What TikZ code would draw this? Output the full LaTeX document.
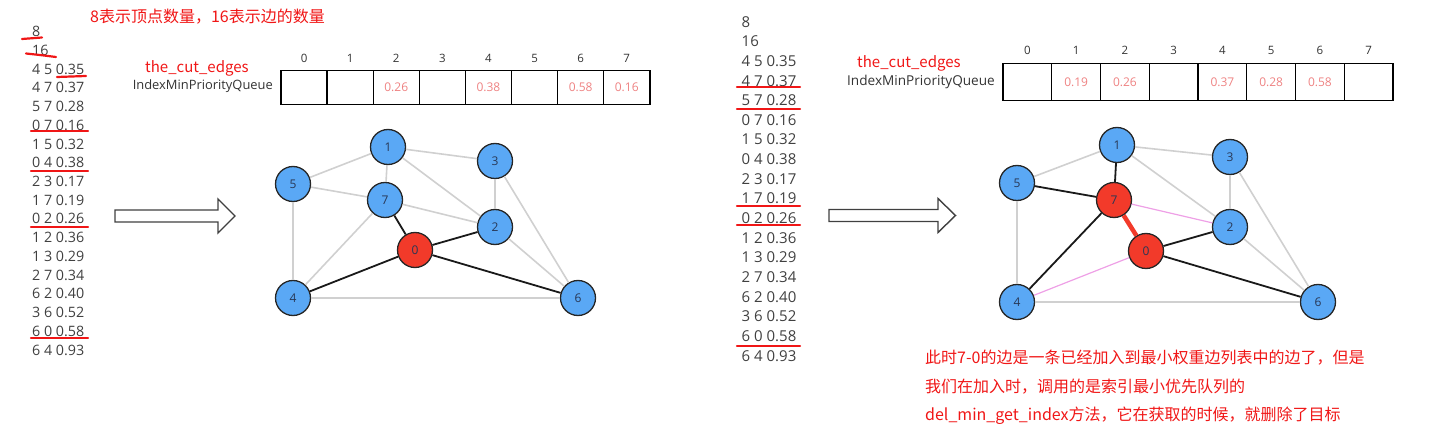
\documentclass[tikz,border=0pt]{standalone}
\usepackage{fontspec}
\setmainfont{Open Sans}
\newfontfamily\cjk{Noto Sans CJK SC}
\definecolor{notered}{RGB}{240,22,22}
\definecolor{listgray}{RGB}{64,64,64}
\definecolor{cellred}{RGB}{238,130,130}
\definecolor{vblue}{RGB}{90,168,245}
\definecolor{vred}{RGB}{242,58,42}
\definecolor{edgegray}{RGB}{208,208,208}
\definecolor{edgepink}{RGB}{238,160,230}
\begin{document}
\begin{tikzpicture}[x=1pt,y=-1pt,
    listtxt/.style={anchor=west,inner sep=0pt,text=listgray,font=\fontsize{14.3}{14.3}\selectfont},
    mark line/.style={notered,line width=2.2pt,line cap=round},
    cell/.style={draw,line width=1.4pt,minimum width=#1,minimum height=34pt,inner sep=0pt,
      text=cellred,font=\fontsize{12}{12}\selectfont},
    idx/.style={inner sep=0pt,text=black!80,font=\fontsize{11.5}{11.5}\selectfont},
    vertex/.style={circle,draw=black!85,line width=1.3pt,fill=vblue,minimum size=35pt,inner sep=0pt,
      text={rgb,255:red,40;green,55;blue,85},font=\fontsize{12}{12}\selectfont},
    hot/.style={vertex,fill=vred},
    gedge/.style={edgegray,line width=1.6pt},
    tedge/.style={black!90,line width=1.8pt},
    pedge/.style={edgepink,line width=1.2pt},
    redtxt/.style={inner sep=0pt,text=notered,font=\cjk\fontsize{15}{15}\selectfont},
    qlabel/.style={inner sep=0pt,anchor=east,text=black!80,font=\fontsize{12.9}{12.9}\selectfont},
    bigarrow/.style={draw=listgray,line width=1.4pt,fill=white}]
  \useasboundingbox (0,0) rectangle (1435,438);

  % Note on the left list
  \node[redtxt,anchor=west,font=\cjk\fontsize{16}{16}\selectfont] (title) at (90,17) {8表示顶点数量，16表示边的数量};

  % Edge list (left)
  \foreach \t [count=\k from 0] in {8,16,4 5 0.35,4 7 0.37,5 7 0.28,0 7 0.16,1 5 0.32,0 4 0.38,2 3 0.17,
      1 7 0.19,0 2 0.26,1 2 0.36,1 3 0.29,2 7 0.34,6 2 0.40,3 6 0.52,6 0 0.58,6 4 0.93}
    \node[listtxt] (la\k) at (32,31.7+18.72*\k) {\t};
  \draw[mark line] (22,39) -- (42,37.5);
  \draw[mark line] (26,53.5) .. controls (40,55) .. (56,57);
  \draw[mark line] (57,77) -- (86,76);
  \foreach \y in {130.7,170.7,226.7,338}
    \draw[mark line] (31,\y) -- (88,\y);

  % Arrow (left)
  \draw[bigarrow] (115,210) -- (218,210) -- (218,199) -- (235,216) -- (218,233) -- (218,222) -- (115,222) -- cycle;

  % Queue (left)
  \node[redtxt,anchor=west] (cutl) at (145,68) {the\_cut\_edges};
  \node[qlabel] (pql) at (273,86.5) {IndexMinPriorityQueue};
  \foreach \v [count=\i from 0] in {,,0.26,,0.38,,0.58,0.16} {
    \node[cell=46.1pt] (ql\i) at (304.05+46.1*\i,87.5) {\v};
    \node[idx] (il\i) at (304.05+46.1*\i,58) {\i};
  }

  % Graph (left)
  \node[vertex] (a1) at (388,147) {1};
  \node[vertex] (a3) at (495,161) {3};
  \node[vertex] (a5) at (293,184) {5};
  \node[vertex] (a7) at (385,200) {7};
  \node[vertex] (a2) at (495,227) {2};
  \node[hot]    (a0) at (415,250) {0};
  \node[vertex] (a4) at (293,298) {4};
  \node[vertex] (a6) at (578,298) {6};
  \foreach \p/\q in {1/5,1/3,1/7,1/2,5/7,5/4,7/2,7/4,3/2,3/6,2/6,4/6}
    \draw[gedge] (a\p) -- (a\q);
  \foreach \q in {7,2,4,6}
    \draw[tedge] (a0) -- (a\q);

  % Edge list (right)
  \foreach \t [count=\k from 0] in {8,16,4 5 0.35,4 7 0.37,5 7 0.28,0 7 0.16,1 5 0.32,0 4 0.38,2 3 0.17,
      1 7 0.19,0 2 0.26,1 2 0.36,1 3 0.29,2 7 0.34,6 2 0.40,3 6 0.52,6 0 0.58,6 4 0.93}
    \node[listtxt,font=\fontsize{15}{15}\selectfont] (lb\k) at (741.5,21.7+19.66*\k) {\t};
  \foreach \y in {86.7,109,205.7,225.3,346}
    \draw[mark line] (737,\y) -- (800,\y);

  % Arrow (right)
  \draw[bigarrow] (829,209.5) -- (938,209.5) -- (938,198.5) -- (955.5,215.5) -- (938,232.5) -- (938,221.5) -- (829,221.5) -- cycle;

  % Queue (right)
  \node[redtxt,anchor=west] (cutr) at (857,63) {the\_cut\_edges};
  \node[qlabel,font=\fontsize{13.6}{13.6}\selectfont] (pqr) at (995,81.5) {IndexMinPriorityQueue};
  \foreach \v [count=\i from 0] in {,0.19,0.26,,0.37,0.28,0.58,} {
    \node[cell=48.75pt,minimum height=37pt] (qr\i) at (1027.4+48.75*\i,82) {\v};
    \node[idx] (ir\i) at (1027.4+48.75*\i,50) {\i};
  }

  % Graph (right)
  \node[vertex] (b1) at (1117,145) {1};
  \node[vertex] (b3) at (1230,157) {3};
  \node[vertex] (b5) at (1017,183) {5};
  \node[hot]    (b7) at (1114,200) {7};
  \node[vertex] (b2) at (1230,227) {2};
  \node[hot]    (b0) at (1146,251) {0};
  \node[vertex] (b4) at (1017,302) {4};
  \node[vertex] (b6) at (1318,302) {6};
  \foreach \p/\q in {1/5,1/3,1/2,5/4,3/2,3/6,2/6,4/6}
    \draw[gedge] (b\p) -- (b\q);
  \foreach \p/\q in {1/7,5/7,7/4,0/2,0/6}
    \draw[tedge] (b\p) -- (b\q);
  \draw[pedge] (b7) -- (b2);
  \draw[pedge] (b0) -- (b4);
  \draw[vred,line width=4.5pt] (b7) -- (b0);

  % Note (right)
  \node[redtxt,anchor=north west,align=left,font=\cjk\fontsize{16}{28.3}\selectfont] (note) at (925,350)
    {此时7-0的边是一条已经加入到最小权重边列表中的边了，但是\\
     我们在加入时，调用的是索引最小优先队列的\\
     del\_min\_get\_index方法，它在获取的时候，就删除了目标};
\end{tikzpicture}
\end{document}
